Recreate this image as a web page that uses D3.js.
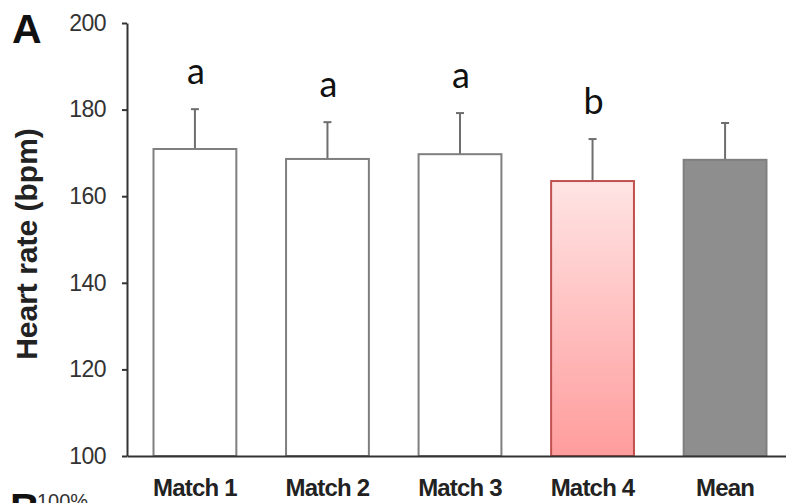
<!DOCTYPE html>
<html>
<head>
<meta charset="utf-8">
<script src="https://cdn.jsdelivr.net/npm/d3@7"></script>
<style>
  html, body { margin: 0; padding: 0; background: #fff; }
  svg { display: block; }
</style>
</head>
<body>
<svg id="chart" width="786" height="503"></svg>
<script>
// Heart rate per match (mean + SD), with post-hoc group letters
const categories = ["Match 1", "Match 2", "Match 3", "Match 4", "Mean"];
const heartRate = [170.9, 168.6, 169.7, 163.5, 168.4];
const heartRateSD = [9.2, 8.5, 9.5, 9.7, 8.5];
const groupLetters = ["a", "a", "a", "b", ""];
const yTicks = [100, 120, 140, 160, 180, 200];

const svg = d3.select("#chart");

const x = d3.scaleBand()
  .domain(categories)
  .range([127, 793])
  .paddingInner(0.375)
  .paddingOuter(0.2);

const y = d3.scaleLinear()
  .domain([100, 200])
  .range([456, 23]);

// gradient for the highlighted match
const defs = svg.append("defs");
const grad = defs.append("linearGradient")
  .attr("id", "hiGrad")
  .attr("x1", 0).attr("y1", 0).attr("x2", 0).attr("y2", 1);
grad.append("stop").attr("offset", "0%").attr("stop-color", "#ffe4e4");
grad.append("stop").attr("offset", "100%").attr("stop-color", "#ff9c9c");

const fillFor = (d) => d === "Match 4" ? "url(#hiGrad)" : (d === "Mean" ? "#8e8e8e" : "#ffffff");
const strokeFor = (d) => d === "Match 4" ? "#c0504d" : "#7f7f7f";

// error bars (upper whisker only)
const eb = svg.append("g").attr("class", "errorbars");
categories.forEach((c, i) => {
  const cx = x(c) + x.bandwidth() / 2;
  const top = y(heartRate[i] + heartRateSD[i]);
  eb.append("line")
    .attr("x1", cx).attr("x2", cx)
    .attr("y1", y(heartRate[i])).attr("y2", top)
    .attr("stroke", "#6e6e6e").attr("stroke-width", 2);
  eb.append("line")
    .attr("x1", cx - 4).attr("x2", cx + 4)
    .attr("y1", top).attr("y2", top)
    .attr("stroke", "#6e6e6e").attr("stroke-width", 2);
});

// bars
svg.append("g").attr("class", "bars")
  .selectAll("rect")
  .data(categories)
  .join("rect")
  .attr("x", d => x(d))
  .attr("width", x.bandwidth())
  .attr("y", (d, i) => y(heartRate[i]))
  .attr("height", (d, i) => y(100) - y(heartRate[i]))
  .attr("fill", fillFor)
  .attr("stroke", strokeFor)
  .attr("stroke-width", 2);

// group letters above the whiskers
svg.append("g").attr("class", "letters")
  .selectAll("text")
  .data(categories)
  .join("text")
  .attr("x", d => x(d) + x.bandwidth() / 2 + 1)
  .attr("y", (d, i) => y(heartRate[i] + heartRateSD[i]) - 25)
  .attr("text-anchor", "middle")
  .attr("font-family", "Lato, 'Open Sans', sans-serif")
  .attr("font-size", 36)
  .attr("fill", "#111")
  .text((d, i) => groupLetters[i]);

// y axis
const yAxis = svg.append("g")
  .attr("transform", "translate(127,0)")
  .call(d3.axisLeft(y).tickValues(yTicks).tickSize(5).tickSizeOuter(0).tickPadding(16));
yAxis.select(".domain").attr("stroke", "#333").attr("stroke-width", 2);
yAxis.selectAll(".tick line").attr("stroke", "#333").attr("stroke-width", 2);
yAxis.selectAll(".tick text")
  .attr("font-family", "'Liberation Sans', Arial, sans-serif")
  .attr("font-size", 23)
  .attr("letter-spacing", -0.5)
  .attr("fill", "#333");

// x axis baseline and category labels
const xAxis = svg.append("g")
  .attr("transform", "translate(0,456)")
  .call(d3.axisBottom(x).tickSize(0).tickSizeOuter(0));
xAxis.select(".domain").attr("stroke", "#333").attr("stroke-width", 2);
xAxis.selectAll(".tick text")
  .attr("y", 40).attr("dy", 0)
  .attr("font-family", "'Liberation Sans', Arial, sans-serif")
  .attr("font-weight", "bold")
  .attr("font-size", 24)
  .attr("letter-spacing", -0.8)
  .attr("fill", "#222");

// y axis title
svg.append("text")
  .attr("transform", "translate(37,244) rotate(-90)")
  .attr("text-anchor", "middle")
  .attr("font-family", "'Liberation Sans', Arial, sans-serif")
  .attr("font-weight", "bold")
  .attr("font-size", 30)
  .attr("fill", "#222")
  .text("Heart rate (bpm)");

// panel labels
svg.append("text")
  .attr("x", 12).attr("y", 43)
  .attr("font-family", "'Liberation Sans', Arial, sans-serif")
  .attr("font-weight", "bold")
  .attr("font-size", 41)
  .attr("fill", "#111")
  .text("A");
svg.append("text")
  .attr("x", 10).attr("y", 522)
  .attr("font-family", "'Liberation Sans', Arial, sans-serif")
  .attr("font-weight", "bold")
  .attr("font-size", 41)
  .attr("fill", "#111")
  .text("B");
svg.append("text")
  .attr("x", 37).attr("y", 508)
  .attr("font-family", "'Liberation Sans', Arial, sans-serif")
  .attr("font-size", 20)
  .attr("fill", "#333")
  .text("100%");
</script>
</body>
</html>
